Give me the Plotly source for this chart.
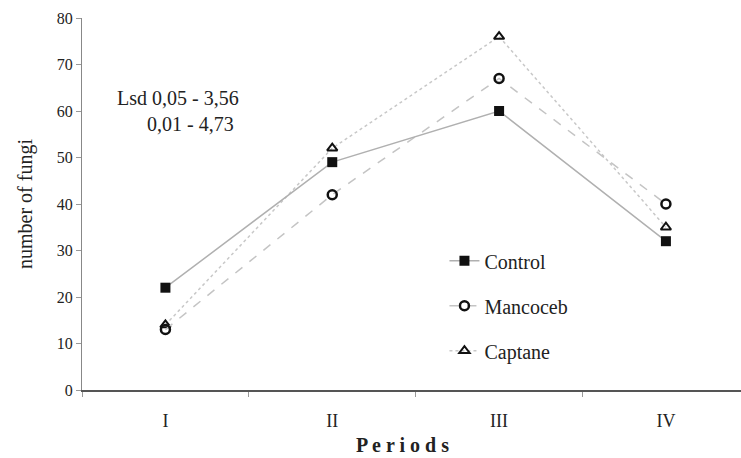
import plotly.graph_objects as go

periods = ["I", "II", "III", "IV"]
control = [22, 49, 60, 32]
mancoceb = [13, 42, 67, 40]
captane = [14, 52, 76, 35]
y_ticks = [0, 10, 20, 30, 40, 50, 60, 70, 80]

font_serif = "Liberation Serif, Times New Roman, serif"

fig = go.Figure()
fig.add_trace(go.Scatter(
    x=periods, y=captane, name="Captane", mode="lines+markers", legendgroup="c", legendrank=3,
    line=dict(color="#c8c8c8", width=1.5, dash="dot"),
    marker=dict(symbol="triangle-up-open", size=9, color="#111", line=dict(width=2, color="#111")),
))
fig.add_trace(go.Scatter(
    x=periods, y=mancoceb, name="Mancoceb", mode="lines+markers", legendgroup="b", legendrank=2,
    line=dict(color="#c4c4c4", width=1.5, dash="dash"),
    marker=dict(symbol="circle-open", size=9, color="#111", line=dict(width=2.5, color="#111")),
))
fig.add_trace(go.Scatter(
    x=periods, y=control, name="Control", mode="lines+markers", legendgroup="a", legendrank=1,
    line=dict(color="#b0b0b0", width=1.5),
    marker=dict(symbol="square", size=10, color="#111"),
))

fig.update_layout(
    width=741, height=458,
    margin=dict(l=82, r=0, t=18, b=68),
    paper_bgcolor="white", plot_bgcolor="white",
    font=dict(family=font_serif, size=16, color="#222"),
    showlegend=True,
    legend=dict(
        x=0.55, y=0.40, xanchor="left", yanchor="top",
        traceorder="grouped", bgcolor="rgba(0,0,0,0)",
        font=dict(family=font_serif, size=20, color="#222"),
        tracegroupgap=16,
    ),
    xaxis=dict(
        type="category", range=[-0.5, 3.45],
        showline=True, linecolor="#555", linewidth=1.5,
        ticks="outside", tickson="boundaries", ticklen=5, tickcolor="#999",
        ticklabelstandoff=14,
        showgrid=False, zeroline=False,
        tickfont=dict(family=font_serif, size=18, color="#222"),
    ),
    yaxis=dict(
        range=[0, 80], tickvals=y_ticks,
        showline=True, linecolor="#888", linewidth=1,
        ticks="outside", ticklen=5, tickcolor="#999",
        showgrid=False, zeroline=False,
        tickfont=dict(family=font_serif, size=16, color="#222"),
        title=dict(text="number of fungi", font=dict(family=font_serif, size=20, color="#222"), standoff=18),
    ),
)

fig.add_annotation(
    x=(402 - 82) / 659, y=-0.148, xref="paper", yref="paper", xanchor="center", yanchor="middle",
    text="<b>P e r i o d s</b>", showarrow=False,
    font=dict(family=font_serif, size=20, color="#222"),
)

fig.add_annotation(
    x=0.05, y=60, xref="paper", yref="y", xanchor="left", yanchor="middle",
    text="Lsd 0,05 - 3,56<br>      0,01 - 4,73", align="left", showarrow=False,
    font=dict(family=font_serif, size=20, color="#222"),
)

fig.write_html("out.html")
